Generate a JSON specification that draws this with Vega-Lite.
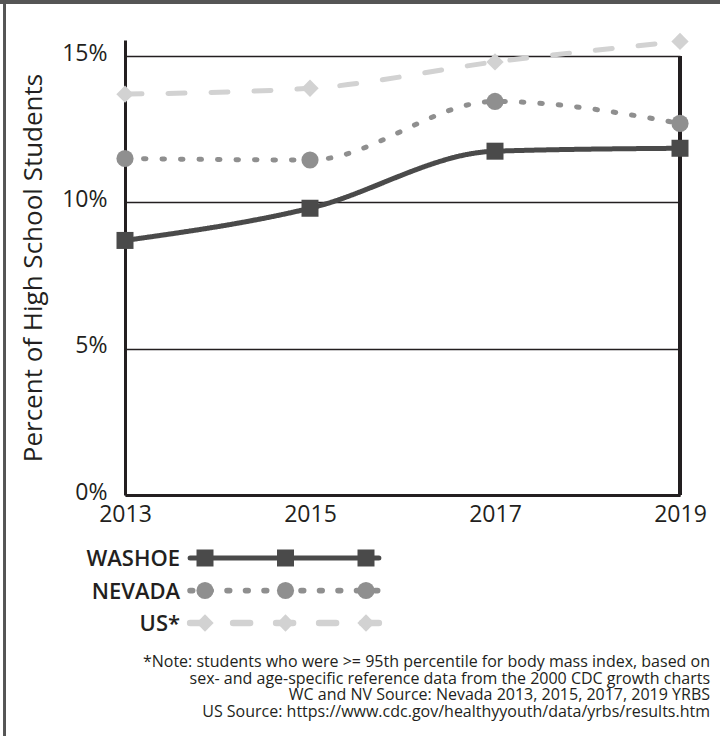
{
  "$schema": "https://vega.github.io/schema/vega-lite/v6.json",
  "width": 555,
  "height": 455,
  "autosize": {"type": "none"},
  "padding": {"left": 125, "top": 40, "right": 40, "bottom": 241},
  "background": "white",
  "config": {
    "font": "Open Sans",
    "view": {"stroke": null},
    "axis": {"labelColor": "#231f20", "titleColor": "#231f20", "labelFont": "Open Sans", "titleFont": "Open Sans"}
  },
  "title": {
    "text": [
      "*Note: students who were >= 95th percentile for body mass index, based on",
      "sex- and age-specific reference data from the 2000 CDC growth charts",
      "WC and NV Source: Nevada 2013, 2015, 2017, 2019 YRBS",
      "US Source: https://www.cdc.gov/healthyyouth/data/yrbs/results.htm"
    ],
    "orient": "bottom",
    "anchor": "end",
    "frame": "group",
    "align": "right",
    "offset": -85,
    "dx": 30,
    "fontSize": 16,
    "fontWeight": "normal",
    "lineHeight": 16.7,
    "color": "#231f20",
    "font": "Open Sans"
  },
  "datasets": {
    "obesity": [
      {"series": "WASHOE", "year": 2013, "value": 8.7},
      {"series": "WASHOE", "year": 2015, "value": 9.8},
      {"series": "WASHOE", "year": 2017, "value": 11.75},
      {"series": "WASHOE", "year": 2019, "value": 11.85},
      {"series": "NEVADA", "year": 2013, "value": 11.5},
      {"series": "NEVADA", "year": 2015, "value": 11.45},
      {"series": "NEVADA", "year": 2017, "value": 13.45},
      {"series": "NEVADA", "year": 2019, "value": 12.7},
      {"series": "US*", "year": 2013, "value": 13.7},
      {"series": "US*", "year": 2015, "value": 13.9},
      {"series": "US*", "year": 2017, "value": 14.8},
      {"series": "US*", "year": 2019, "value": 15.5}
    ],
    "legend": [
      {"series": "WASHOE", "k": 1}, {"series": "WASHOE", "k": 2}, {"series": "WASHOE", "k": 3},
      {"series": "NEVADA", "k": 1}, {"series": "NEVADA", "k": 2}, {"series": "NEVADA", "k": 3},
      {"series": "US*", "k": 1}, {"series": "US*", "k": 2}, {"series": "US*", "k": 3}
    ]
  },
  "layer": [
    {
      "data": {"name": "obesity"},
      "encoding": {
        "x": {
          "field": "year", "type": "quantitative",
          "scale": {"domain": [2013, 2019], "nice": false, "zero": false},
          "axis": {
            "values": [2013, 2015, 2017, 2019], "format": "d", "title": null,
            "ticks": false, "grid": false, "domainColor": "#231f20", "domainWidth": 3,
            "labelFontSize": 23, "labelPadding": 8, "labelColor": "#231f20", "labelFlush": false
          }
        },
        "y": {
          "field": "value", "type": "quantitative",
          "scale": {"domain": [0, 15.55], "nice": false},
          "axis": {
            "values": [0, 5, 10, 15], "labelExpr": "datum.value + '%'",
            "title": "Percent of High School Students", "titleFontSize": 26, "titleFontWeight": "normal",
            "titlePadding": 15, "ticks": false, "grid": true, "gridColor": "#231f20", "gridWidth": 1.3,
            "domainColor": "#231f20", "domainWidth": 3, "labelFontSize": 23, "labelPadding": 18,
            "labelOffset": -3
          }
        },
        "color": {
          "field": "series", "type": "nominal", "legend": null,
          "scale": {"domain": ["WASHOE", "NEVADA", "US*"], "range": ["#4a4a4a", "#8f8f8f", "#d2d2d2"]}
        }
      },
      "layer": [
        {
          "mark": {"type": "rule", "color": "#231f20", "strokeWidth": 3},
          "encoding": {"x": {"datum": 2019}, "y": {"datum": 0}, "y2": {"datum": 15}, "color": {"value": "#231f20"}}
        },
        {
          "mark": {"type": "line", "interpolate": "monotone", "strokeWidth": 5, "strokeCap": "round"},
          "encoding": {
            "strokeDash": {
              "field": "series", "type": "nominal", "legend": null,
              "scale": {"domain": ["WASHOE", "NEVADA", "US*"], "range": [[1, 0], [2.5, 16], [17, 26]]}
            },
            "strokeWidth": {
              "field": "series", "type": "nominal", "legend": null,
              "scale": {"domain": ["WASHOE", "NEVADA", "US*"], "range": [5, 6.5, 5.5]}
            }
          }
        },
        {
          "mark": {"type": "point", "filled": true, "opacity": 1},
          "encoding": {
            "shape": {
              "field": "series", "type": "nominal", "legend": null,
              "scale": {"domain": ["WASHOE", "NEVADA", "US*"], "range": ["square", "circle", "diamond"]}
            },
            "size": {
              "field": "series", "type": "nominal", "legend": null,
              "scale": {"domain": ["WASHOE", "NEVADA", "US*"], "range": [289, 300, 600]}
            }
          }
        },
        {
          "mark": {"type": "rule", "strokeWidth": 4, "clip": false},
          "encoding": {"x": {"datum": 2011.0}, "x2": {"datum": 2020.0}, "y": {"datum": 16.85}, "color": {"value": "#555555"}}
        },
        {
          "mark": {"type": "rule", "strokeWidth": 2, "clip": false},
          "encoding": {"x": {"datum": 2011.70}, "y": {"datum": 17.5}, "y2": {"datum": -8.3}, "color": {"value": "#555555"}}
        }
      ]
    },
    {
      "data": {"name": "legend"},
      "encoding": {
        "x": {"field": "k", "type": "quantitative", "scale": {"domain": [1, 3], "range": [80, 241], "zero": false, "nice": false}, "axis": null},
        "y": {"field": "series", "type": "nominal", "scale": {"type": "point", "domain": ["WASHOE", "NEVADA", "US*"], "range": [518, 583], "padding": 0}, "axis": null},
        "color": {"field": "series", "type": "nominal", "legend": null}
      },
      "layer": [
        {
          "transform": [{"filter": "datum.k == 1"}],
          "mark": {"type": "rule", "strokeCap": "round", "clip": false},
          "encoding": {
            "x": {"datum": 0.815},
            "x2": {"datum": 3.16},
            "strokeDash": {"field": "series", "type": "nominal", "legend": null},
            "strokeWidth": {"field": "series", "type": "nominal", "legend": null}
          }
        },
        {
          "mark": {"type": "point", "filled": true, "opacity": 1, "clip": false},
          "encoding": {
            "shape": {"field": "series", "type": "nominal", "legend": null},
            "size": {"field": "series", "type": "nominal", "legend": null}
          }
        },
        {
          "transform": [{"filter": "datum.k == 1"}],
          "mark": {"type": "text", "align": "right", "baseline": "middle", "dx": -10, "dy": 1, "fontSize": 22, "fontWeight": 600, "font": "Open Sans", "clip": false},
          "encoding": {
            "x": {"datum": 0.815},
            "text": {"field": "series"},
            "color": {"value": "#231f20"}
          }
        }
      ]
    }
  ],
  "resolve": {"scale": {"x": "independent", "y": "independent"}}
}
